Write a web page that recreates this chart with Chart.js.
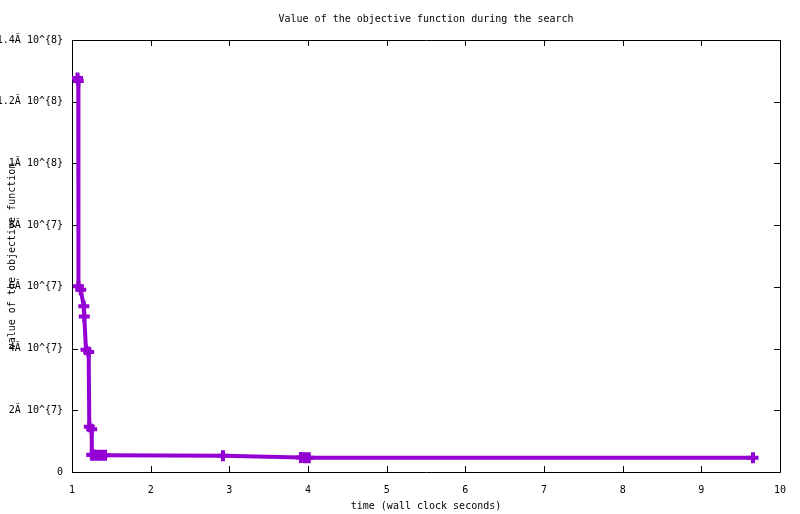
<!DOCTYPE html>
<html>
<head>
<meta charset="utf-8">
<title>Value of the objective function during the search</title>
<script src="https://cdn.jsdelivr.net/npm/chart.js@4.4.1/dist/chart.umd.min.js"></script>
<style>
  html, body { margin: 0; padding: 0; background: #fff; }
  #wrap { width: 800px; height: 514px; position: relative; }
</style>
</head>
<body>
<div id="wrap"><canvas id="objective"></canvas></div>
<script>
// time (s) vs objective value
const timeSeconds = [1.070, 1.080, 1.082, 1.111, 1.150, 1.156, 1.178, 1.212, 1.220, 1.250,
                     1.252, 1.256, 1.270, 1.318, 1.369, 1.420, 2.919, 3.910, 3.962, 4.010, 9.657];
const objectiveValue = [1.277e8, 1.267e8, 6.02e7, 5.91e7, 5.37e7, 5.04e7, 3.96e7, 3.89e7, 1.468e7, 1.384e7,
                        5.6e6, 5.5e6, 5.5e6, 5.4e6, 5.4e6, 5.4e6, 5.3e6, 4.7e6, 4.6e6, 4.6e6, 4.6e6];
const xTickValues = [1, 2, 3, 4, 5, 6, 7, 8, 9, 10];
const yTickLabels = ['0', '2\u0102 10^{7}', '4\u0102 10^{7}', '6\u0102 10^{7}', '8\u0102 10^{7}',
                     '1\u0102 10^{8}', '1.2\u0102 10^{8}', '1.4\u0102 10^{8}'];

const FONT = 'DejaVu Sans Mono';
const LINE = '#9400d3';

// gnuplot style frame with inward ticks mirrored on all four sides
const frame = {
  id: 'frame',
  beforeDatasetsDraw(chart){
    const {ctx, chartArea: a, scales: {x, y}} = chart;
    const len = 6;
    ctx.save();
    ctx.strokeStyle = '#000';
    ctx.lineWidth = 1;
    ctx.beginPath();
    ctx.rect(Math.round(a.left) + 0.5, Math.round(a.top) + 0.5, Math.round(a.width), Math.round(a.height));
    x.ticks.forEach(t => {
      const px = Math.round(x.getPixelForValue(t.value)) + 0.5;
      ctx.moveTo(px, a.bottom); ctx.lineTo(px, a.bottom - len);
      ctx.moveTo(px, a.top); ctx.lineTo(px, a.top + len);
    });
    y.ticks.forEach(t => {
      const py = Math.round(y.getPixelForValue(t.value)) + 0.5;
      ctx.moveTo(a.left, py); ctx.lineTo(a.left + len, py);
      ctx.moveTo(a.right, py); ctx.lineTo(a.right - len, py);
    });
    ctx.stroke();
    ctx.restore();
  }
};

function init(){
  const points = timeSeconds.map((t, i) => ({x: t, y: objectiveValue[i]}));
  const ctx = document.getElementById('objective').getContext('2d');
  new Chart(ctx, {
    type: 'line',
    data: {
      datasets: [{
        data: points,
        borderColor: LINE,
        backgroundColor: LINE,
        borderWidth: 4,
        pointStyle: 'cross',
        pointRadius: 5.5,
        pointBorderWidth: 4,
        pointHoverRadius: 5.5,
        tension: 0,
        fill: false
      }]
    },
    options: {
      responsive: true,
      maintainAspectRatio: false,
      animation: false,
      devicePixelRatio: 1,
      layout: { padding: { left: 0, right: 20, top: 0, bottom: 0 } },
      plugins: {
        legend: { display: false },
        tooltip: { enabled: false },
        title: {
          display: true,
          fullSize: false,
          text: 'Value of the objective function during the search',
          color: '#000',
          font: { family: FONT, size: 10, weight: 'normal' },
          padding: { top: 13, bottom: 15 }
        }
      },
      scales: {
        x: {
          type: 'linear',
          min: 1, max: 10,
          grid: { display: false },
          border: { display: false },
          afterBuildTicks: s => { s.ticks = xTickValues.map(v => ({value: v})); },
          afterFit: s => { s.height = 42; },
          ticks: {
            color: '#000',
            font: { family: FONT, size: 10 },
            padding: 4,
            maxRotation: 0,
            callback: v => String(v)
          },
          title: {
            display: true,
            text: 'time (wall clock seconds)',
            color: '#000',
            font: { family: FONT, size: 10 },
            padding: { top: 0, bottom: 2 }
          }
        },
        y: {
          type: 'linear',
          min: 0, max: 1.4e8,
          grid: { display: false },
          border: { display: false },
          afterFit: s => { s.width = 72; },
          ticks: {
            stepSize: 2e7,
            color: '#000',
            font: { family: FONT, size: 10 },
            padding: 1,
            callback: (v, i) => yTickLabels[i]
          },
          title: {
            display: true,
            text: 'value of the objective function',
            color: '#000',
            font: { family: FONT, size: 10 },
            padding: { top: 6, bottom: 0 }
          }
        }
      }
    },
    plugins: [frame]
  });
}

document.addEventListener('DOMContentLoaded', init);
</script>
</body>
</html>
